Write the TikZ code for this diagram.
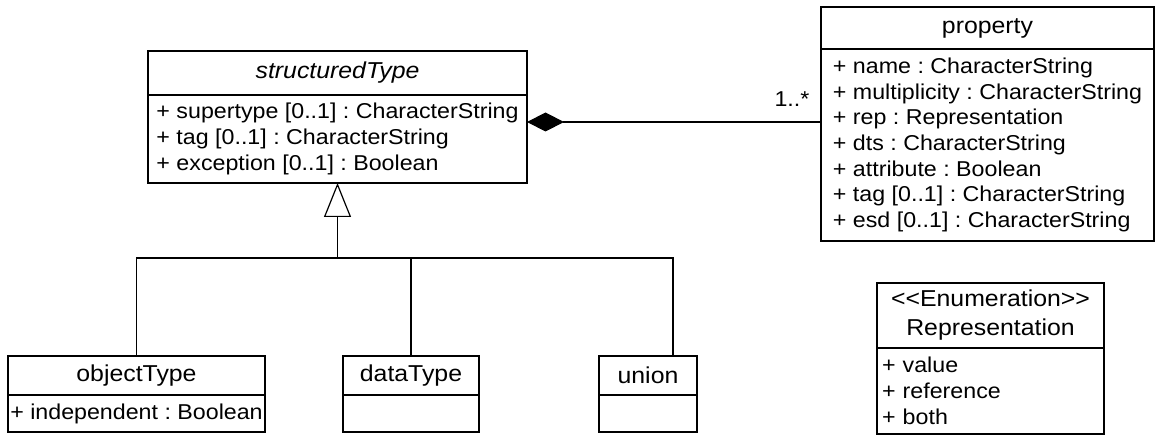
\documentclass[tikz,border=0pt]{standalone}
\usepackage{fontspec}
\setmainfont{Liberation Sans}[FakeStretch=1.08]
\usetikzlibrary{arrows.meta}
\frenchspacing

\begin{document}
\begin{tikzpicture}[x=1pt,y=-1pt,line width=1.2pt,
  font=\fontsize{21.5pt}{25.7pt}\selectfont,
  head/.style={draw,outer sep=0pt,anchor=north west,align=center,inner sep=2pt,
    font=\fontsize{23pt}{29pt}\selectfont},
  attr/.style={draw,outer sep=0pt,anchor=north,align=left,inner sep=2pt}]
\useasboundingbox (0,0) rectangle (1158,435);

\node[head,minimum width=379pt,minimum height=44pt] (st) at (148,51) {\itshape structuredType};
\node[attr,minimum width=379pt,minimum height=88pt] (st-attr) at (st.south)
  {+ supertype [0..1] : CharacterString\\+ tag [0..1] : CharacterString\\+ exception [0..1] : Boolean};

\node[head,minimum width=333pt,minimum height=42pt] (prop) at (821,7) {property};
\node[attr,minimum width=333pt,minimum height=192pt] (prop-attr) at (prop.south)
  {+ name : CharacterString\\+ multiplicity : CharacterString\\+ rep : Representation\\+ dts : CharacterString\\+ attribute : Boolean\\+ tag [0..1] : CharacterString\\+ esd [0..1] : CharacterString};

\node[head,minimum width=257pt,minimum height=39pt] (ot) at (8,356) {objectType};
\node[attr,minimum width=257pt,minimum height=37pt] (ot-attr) at (ot.south)
  {+ independent : Boolean};

\node[head,minimum width=136pt,minimum height=39pt] (dt) at (343,356) {dataType};
\node[attr,minimum width=136pt,minimum height=37pt] (dt-attr) at (dt.south) {};

\node[head,minimum width=98pt,minimum height=39pt] (un) at (599,356) {union};
\node[attr,minimum width=98pt,minimum height=37pt] (un-attr) at (un.south) {};

\node[head,minimum width=227pt,minimum height=65pt] (rep) at (877,283)
  {<\kern0pt<Enumeration>\kern0pt>\\Representation};
\node[attr,text width=217pt,inner xsep=5pt,minimum height=86pt] (rep-attr) at (rep.south)
  {+ value\\+ reference\\+ both};

\coordinate (comp) at ([yshift=-27pt]st-attr.north east);
\draw[{Diamond[length=37pt,width=19pt]}-] (comp) -- (comp -| prop-attr.west)
  node[anchor=south east,inner xsep=11pt,inner ysep=15pt] (mult) {1..*};

\coordinate (bus) at ([yshift=-75pt]st-attr.south);
\draw[-{Triangle[open,length=34pt,width=27pt]}] (bus) -- (st-attr.south);
\draw (ot.north) |- (bus);
\draw (dt.north) -- (dt.north |- bus);
\draw ([xshift=25pt]un.north) |- (bus);
\end{tikzpicture}
\end{document}
